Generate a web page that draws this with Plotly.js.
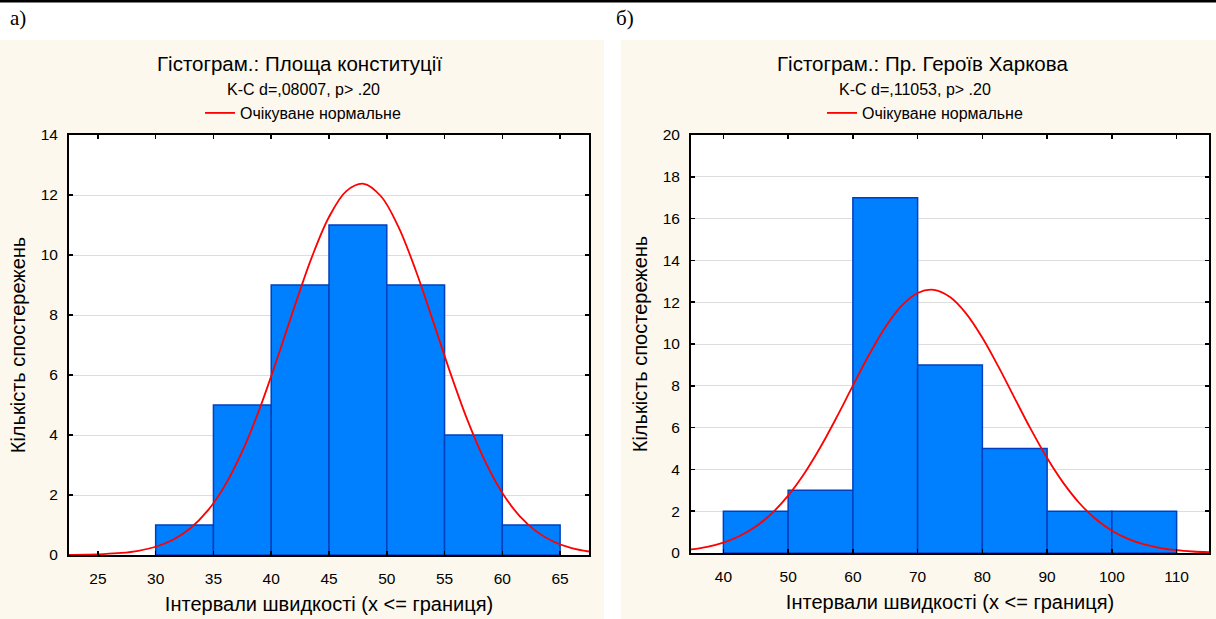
<!DOCTYPE html>
<html>
<head>
<meta charset="utf-8">
<script src="https://cdn.plot.ly/plotly-3.0.1.min.js"></script>
<style>html,body{margin:0;padding:0;background:#fff;}#chart{width:1216px;height:619px;}</style>
</head>
<body>
<div id="chart"></div>
<script>
// ---- Data: panel а) Площа конституції ----
const binStartsA = [30, 35, 40, 45, 50, 55, 60];
const countsA = [1, 5, 9, 11, 9, 4, 1];
const binWidthA = 5;
const curveXA = [22.5, 24, 25.5, 27, 28.5, 30, 31.5, 33, 34.5, 36, 37.5, 39, 40.5, 42, 43.5, 45, 46.5, 48, 49.5, 51, 52.5, 54, 55.5, 57, 58.5, 60, 61.5, 63, 64.5, 66, 67.5];
const curveYA = [0.006, 0.014, 0.031, 0.068, 0.141, 0.275, 0.508, 0.890, 1.477, 2.322, 3.459, 4.881, 6.524, 8.262, 9.913, 11.267, 12.131, 12.374, 11.958, 10.947, 9.493, 7.800, 6.071, 4.477, 3.127, 2.070, 1.298, 0.771, 0.434, 0.231, 0.117];

// ---- Data: panel б) Пр. Героїв Харкова ----
const binStartsB = [40, 50, 60, 70, 80, 90, 100];
const countsB = [2, 3, 17, 9, 5, 2, 2];
const binWidthB = 10;
const curveXB = [35, 37.5, 40, 42.5, 45, 47.5, 50, 52.5, 55, 57.5, 60, 62.5, 65, 67.5, 70, 72.5, 75, 77.5, 80, 82.5, 85, 87.5, 90, 92.5, 95, 97.5, 100, 102.5, 105, 107.5, 110, 112.5, 115];
const curveYB = [0.169, 0.297, 0.501, 0.813, 1.269, 1.903, 2.744, 3.804, 5.071, 6.498, 8.006, 9.483, 10.798, 11.821, 12.442, 12.590, 12.248, 11.455, 10.299, 8.904, 7.400, 5.912, 4.541, 3.354, 2.381, 1.625, 1.067, 0.673, 0.408, 0.238, 0.133, 0.072, 0.037];

// ---- Texts ----
const titleA = 'Гістограм.: Площа конституції';
const titleB = 'Гістограм.: Пр. Героїв Харкова';
const subA = 'K-C d=,08007, p> .20';
const subB = 'K-C d=,11053, p> .20';
const legendName = 'Очікуване нормальне';
const xTitle = 'Інтервали швидкості (x <= границя)';
const yTitle = 'Кількість спостережень';
const labelA = 'а)';
const labelB = 'б)';

const W = 1216, H = 619;
const px = x => x / W;
const py = y => 1 - y / H;
const FONT = 'Liberation Sans, Arial, sans-serif';
const BEIGE = '#fdf8ed';
const BAR = 'rgb(0,128,255)';
const BAR_LINE = 'rgb(0,64,190)';

const traces = [
  {type:'bar', x:binStartsA, y:countsA, width:binWidthA, offset:0, xaxis:'x', yaxis:'y',
   marker:{color:BAR, line:{color:BAR_LINE, width:1.5}}, showlegend:false, hoverinfo:'skip'},
  {type:'scatter', mode:'lines', x:curveXA, y:curveYA, xaxis:'x', yaxis:'y', name:legendName,
   line:{color:'#ff0000', width:1.8, shape:'spline'}, legend:'legend', showlegend:true},
  {type:'bar', x:binStartsB, y:countsB, width:binWidthB, offset:0, xaxis:'x2', yaxis:'y2',
   marker:{color:BAR, line:{color:BAR_LINE, width:1.5}}, showlegend:false, hoverinfo:'skip'},
  {type:'scatter', mode:'lines', x:curveXB, y:curveYB, xaxis:'x2', yaxis:'y2', name:legendName,
   line:{color:'#ff0000', width:1.8, shape:'spline'}, legend:'legend2', showlegend:true}
];

const axisCommon = {
  showline:true, linecolor:'#000', linewidth:2, mirror:'ticks',
  ticks:'inside', ticklen:4, tickwidth:1.5, tickcolor:'#000',
  tickfont:{family:FONT, size:15.5, color:'#000'}, zeroline:false, fixedrange:true
};

const layout = {
  width:W, height:H, margin:{l:0, r:0, t:0, b:0},
  paper_bgcolor:'#ffffff', plot_bgcolor:'rgba(0,0,0,0)',
  font:{family:FONT, color:'#000'},
  bargap:0, barmode:'overlay',
  xaxis: Object.assign({}, axisCommon, {domain:[px(69), px(589)], anchor:'y', range:[22.5, 67.5], dtick:5, tick0:0, showgrid:false,
    ticklabelstandoff:8,
    title:{text:xTitle, font:{family:FONT, size:20, color:'#000'}, standoff:11}}),
  yaxis: Object.assign({}, axisCommon, {domain:[py(555), py(135)], anchor:'x', range:[0, 14], dtick:2, tick0:0, showgrid:true, gridcolor:'#dddddd', gridwidth:1,
    ticklabelstandoff:6,
    title:{text:yTitle, font:{family:FONT, size:20, color:'#000'}, standoff:10}}),
  xaxis2: Object.assign({}, axisCommon, {domain:[px(691), px(1209)], anchor:'y2', range:[35, 115], dtick:10, tick0:0, showgrid:false,
    ticklabelstandoff:8,
    title:{text:xTitle, font:{family:FONT, size:20, color:'#000'}, standoff:11}}),
  yaxis2: Object.assign({}, axisCommon, {domain:[py(553), py(135)], anchor:'x2', range:[0, 20], dtick:2, tick0:0, showgrid:true, gridcolor:'#dddddd', gridwidth:1,
    ticklabelstandoff:6,
    title:{text:yTitle, font:{family:FONT, size:20, color:'#000'}, standoff:10}}),
  legend:{x:px(303), y:py(113), xanchor:'center', yanchor:'middle', orientation:'h', bgcolor:'rgba(0,0,0,0)',
    font:{family:FONT, size:16, color:'#000'}, itemwidth:30},
  legend2:{x:px(925), y:py(113), xanchor:'center', yanchor:'middle', orientation:'h', bgcolor:'rgba(0,0,0,0)',
    font:{family:FONT, size:16, color:'#000'}, itemwidth:30},
  shapes:[
    {type:'rect', xref:'paper', yref:'paper', x0:0, x1:px(604), y0:0, y1:py(40), fillcolor:BEIGE, line:{width:0}, layer:'below'},
    {type:'rect', xref:'paper', yref:'paper', x0:px(621), x1:1, y0:0, y1:py(40), fillcolor:BEIGE, line:{width:0}, layer:'below'},
    {type:'rect', xref:'paper', yref:'paper', x0:px(69), x1:px(589), y0:py(555), y1:py(135), fillcolor:'#ffffff', line:{width:0}, layer:'below'},
    {type:'rect', xref:'paper', yref:'paper', x0:px(691), x1:px(1209), y0:py(553), y1:py(135), fillcolor:'#ffffff', line:{width:0}, layer:'below'},
    {type:'rect', xref:'paper', yref:'paper', x0:0, x1:1, y0:py(2.5), y1:1, fillcolor:'#000000', line:{width:0}, layer:'above'}
  ],
  annotations:[
    {text:labelA, xref:'paper', yref:'paper', x:px(8), y:py(18), xanchor:'left', yanchor:'middle', showarrow:false,
     font:{family:'Liberation Serif, Times New Roman, serif', size:21, color:'#000'}},
    {text:labelB, xref:'paper', yref:'paper', x:px(614), y:py(18), xanchor:'left', yanchor:'middle', showarrow:false,
     font:{family:'Liberation Serif, Times New Roman, serif', size:21, color:'#000'}},
    {text:titleA, xref:'paper', yref:'paper', x:px(299), y:py(64), xanchor:'center', yanchor:'middle', showarrow:false,
     font:{family:FONT, size:20.5, color:'#000'}},
    {text:titleB, xref:'paper', yref:'paper', x:px(922), y:py(64), xanchor:'center', yanchor:'middle', showarrow:false,
     font:{family:FONT, size:20.5, color:'#000'}},
    {text:subA, xref:'paper', yref:'paper', x:px(303), y:py(89), xanchor:'center', yanchor:'middle', showarrow:false,
     font:{family:FONT, size:16, color:'#000'}},
    {text:subB, xref:'paper', yref:'paper', x:px(915), y:py(89), xanchor:'center', yanchor:'middle', showarrow:false,
     font:{family:FONT, size:16, color:'#000'}}
  ]
};

Plotly.newPlot('chart', traces, layout, {staticPlot:true, displayModeBar:false});
</script>
</body>
</html>
